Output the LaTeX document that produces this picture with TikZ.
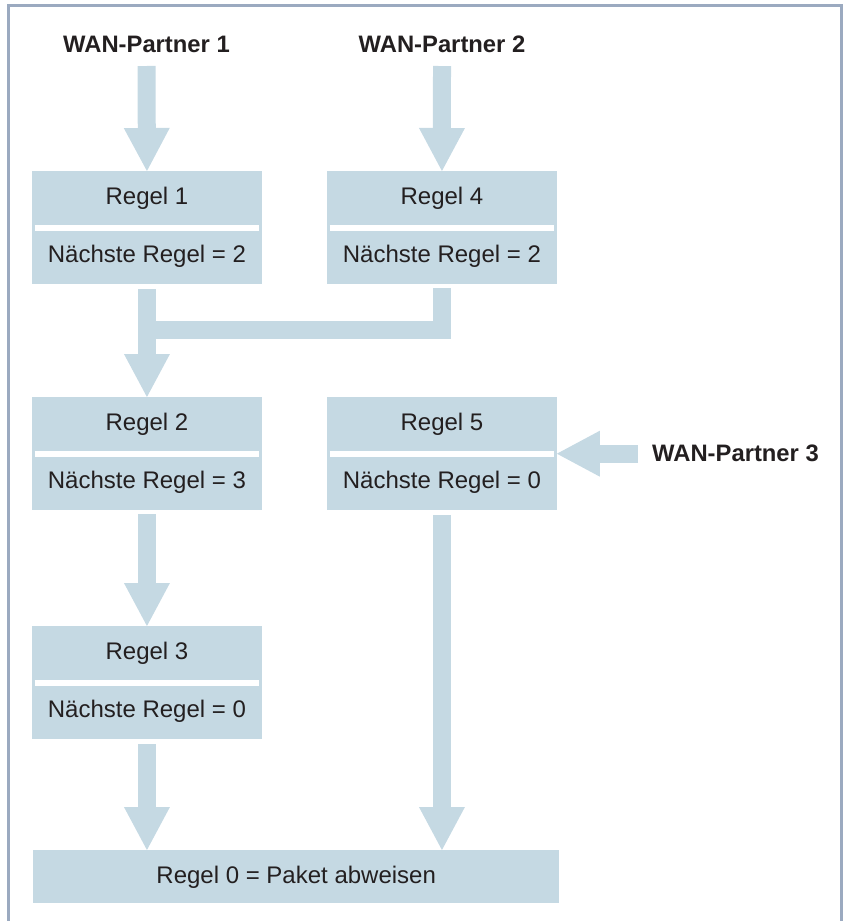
\documentclass[tikz,border=0pt]{standalone}
\usepackage{fontspec}
\setmainfont{Liberation Sans}
\usetikzlibrary{arrows.meta}
\definecolor{boxcol}{RGB}{197,217,227}
\definecolor{framecol}{RGB}{155,170,192}
\definecolor{txtcol}{RGB}{35,31,32}
\newcommand\regelbox[5]{%
  \node[rbox, minimum width=229.5pt, minimum height=113pt] (#1) at (#2,#3) {};
  \node[lbl] (#1t) at ([yshift=-33.5pt]#1.north) {#4};
  \node[lbl] (#1n) at ([yshift=-91.5pt]#1.north) {#5};
  \draw[sepline] ([xshift=2.5pt,yshift=-57pt]#1.north west) -- ([xshift=-2.5pt,yshift=-57pt]#1.north east);
}
\begin{document}
\begin{tikzpicture}[x=1pt,y=-1pt,
  rbox/.style={fill=boxcol, draw=none, rectangle, inner sep=0pt, anchor=north west},
  lbl/.style={font=\fontsize{24}{28}\selectfont, text=txtcol, inner sep=0pt, anchor=base},
  wan/.style={lbl, font=\fontsize{23.8}{28}\selectfont\bfseries},
  sepline/.style={draw=white, line width=5.5pt},
  barrow/.style={draw=boxcol, line width=18pt, -{Triangle[width=46pt,length=43pt,line width=0pt,fill=boxcol]}},
  bshaft/.style={draw=boxcol, line width=18pt, line join=miter},
  frameline/.style={draw=framecol, line width=3pt}
]
\useasboundingbox (0,0) rectangle (844,921);
\draw[frameline] (8.5,921) -- (8.5,5.5) -- (841.5,5.5) -- (841.5,921);

\regelbox{r1}{32}{171}{Regel 1}{Nächste Regel = 2}
\regelbox{r4}{327}{171}{Regel 4}{Nächste Regel = 2}
\regelbox{r2}{32}{397}{Regel 2}{Nächste Regel = 3}
\regelbox{r5}{327}{397}{Regel 5}{Nächste Regel = 0}
\regelbox{r3}{32}{626}{Regel 3}{Nächste Regel = 0}

\node[rbox, minimum width=526pt, minimum height=53pt] (r0) at (33,850) {};
\node[lbl] (r0t) at ([yshift=-33pt]r0.north) {Regel 0 = Paket abweisen};

\node[wan] (wan1) at (146.5,52) {WAN-Partner 1};
\node[wan] (wan2) at (442,52) {WAN-Partner 2};
\node[wan, anchor=base west] (wan3) at (652,461) {WAN-Partner 3};

\draw[barrow] ([yshift=-14pt]wan1.base) -- (r1.north);
\draw[barrow] ([yshift=-14pt]wan2.base) -- (r4.north);
\coordinate (m) at (146.5,329.5);
\draw[bshaft] ([yshift=-4pt]r4.south) |- (m);
\draw[barrow] ([yshift=-5pt]r1.south) -- (r2.north);
\draw[barrow] ([yshift=-4pt]r2.south) -- (r3.north);
\draw[barrow] ([yshift=-5pt]r3.south) -- (r3.south |- r0.north);
\draw[barrow] ([yshift=-5pt]r5.south) -- (r5.south |- r0.north);
\coordinate (w3s) at ([xshift=-14pt]wan3.west);
\draw[barrow] (w3s |- r5.east) -- (r5.east);
\end{tikzpicture}
\end{document}
